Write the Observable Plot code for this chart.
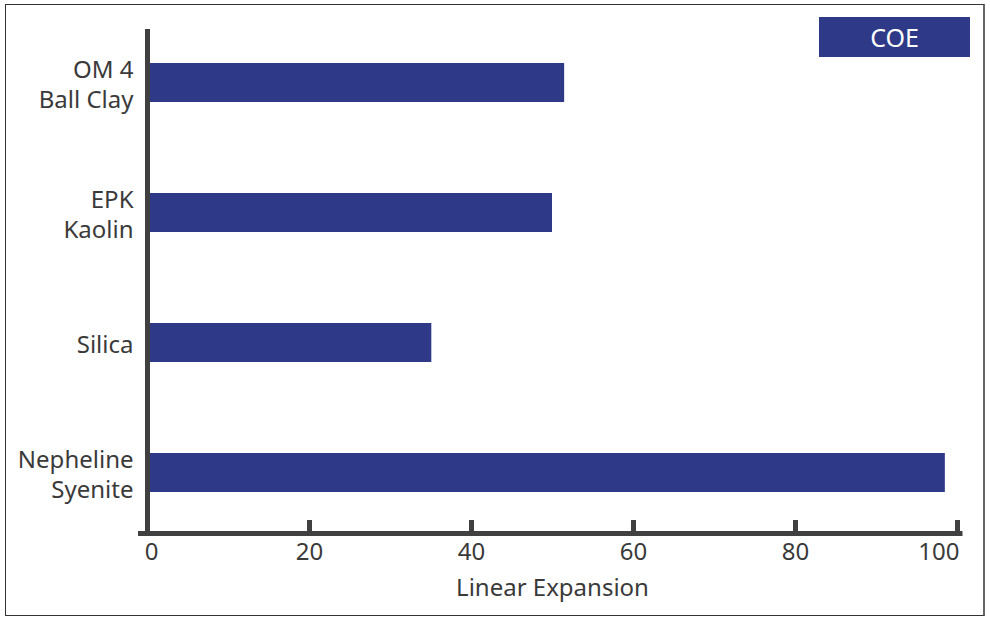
<!DOCTYPE html>
<html>
<head>
<meta charset="utf-8">
<script src="https://cdn.jsdelivr.net/npm/d3@7"></script>
<script src="https://cdn.jsdelivr.net/npm/@observablehq/plot@0.6"></script>
<style>
  html, body { margin: 0; padding: 0; background: #fff; }
  #wrap { position: relative; width: 990px; height: 622px; }
  #border { position: absolute; left: 5px; top: 4px; width: 977px; height: 610px; border: 1.5px solid #333; border-right: 2px solid #666; box-sizing: content-box; }
  #legend { position: absolute; left: 819px; top: 17px; width: 151px; height: 40px; background: #2e3a88; color: #fff;
            font: 25px "Noto Sans", sans-serif; display: flex; align-items: center; justify-content: center; }
  #chart { position: absolute; left: 0; top: 0; }
</style>
</head>
<body>
<div id="wrap">
  <div id="border"></div>
  <div id="chart"></div>
  <div id="legend">COE</div>
</div>
<script>
const categories = ["OM 4\nBall Clay", "EPK\nKaolin", "Silica", "Nepheline\nSyenite"];
const values = [51.5, 50.0, 35.1, 98.5];
const xTicks = [0, 20, 40, 60, 80, 100];
const seriesName = "COE";

const data = categories.map((c, i) => ({name: c, value: values[i]}));
const axisColor = "#404040";
const textColor = "#3a3a3a";

const chart = Plot.plot({
  width: 990,
  height: 622,
  marginLeft: 147,
  marginRight: 33,
  marginTop: 17,
  marginBottom: 89,
  style: {fontFamily: "'Noto Sans', sans-serif", fontSize: "24px", color: textColor, background: "transparent"},
  x: {domain: [0, 100], label: null},
  y: {domain: categories, range: [17, 537], paddingInner: 0.7, paddingOuter: 0.35, label: null},
  marks: [
    Plot.barX(data, {x: "value", y: "name", fill: "#2e3a88", insetLeft: 2.5}),
    Plot.ruleX([0], {insetTop: 12, stroke: axisColor, strokeWidth: 5}),
    Plot.frame({anchor: "bottom", stroke: axisColor, strokeWidth: 5, insetLeft: -7, insetRight: -2.5}),
    Plot.ruleX(xTicks.slice(1), {insetTop: 503, stroke: axisColor, strokeWidth: 5}),
    Plot.axisX({ticks: xTicks.slice(0, 1), tickSize: 0, tickPadding: 9, dx: 4, label: null, fill: textColor}),
    Plot.axisX({ticks: xTicks.slice(1, -1), tickSize: 0, tickPadding: 9, label: null, fill: textColor}),
    Plot.axisX({ticks: xTicks.slice(-1), tickSize: 0, tickPadding: 9, textAnchor: "end", dx: 2, label: null, fill: textColor}),
    Plot.text(["Linear Expansion"], {frameAnchor: "bottom", dy: 55, lineAnchor: "middle", text: d => d, fill: textColor}),
    Plot.axisY({tickSize: 0, tickPadding: 14, lineHeight: 1.25, label: null, fill: textColor})
  ]
});
document.getElementById("chart").appendChild(chart);
</script>
</body>
</html>
